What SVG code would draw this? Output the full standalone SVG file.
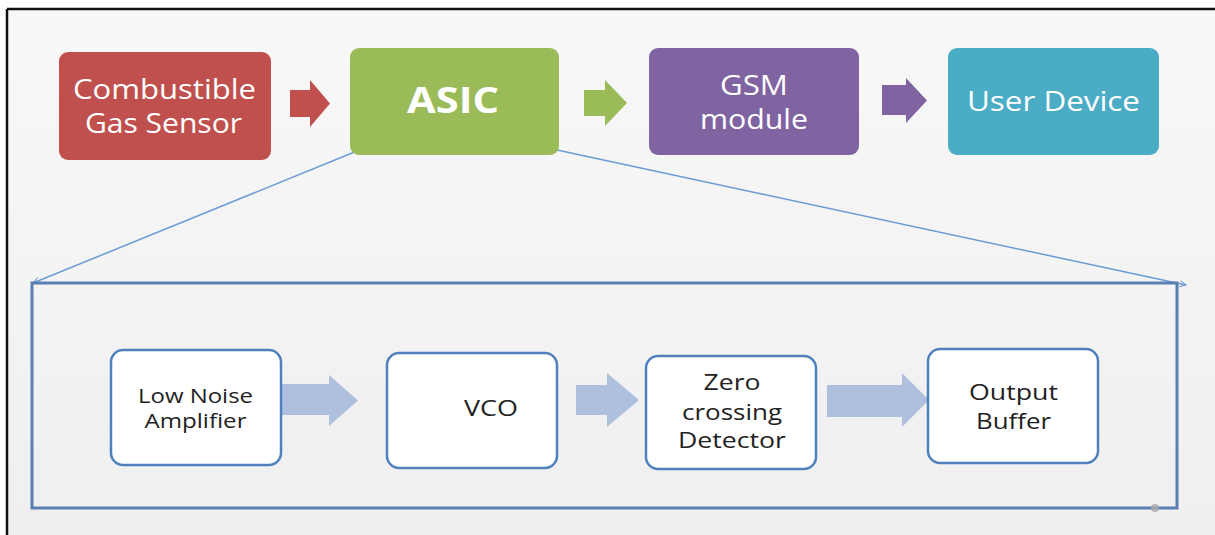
<svg xmlns="http://www.w3.org/2000/svg" width="1215" height="535" viewBox="0 0 1215 535">
<defs>
<linearGradient id="bg" x1="0" y1="0" x2="0" y2="1">
<stop offset="0" stop-color="#f8f8f8"/>
<stop offset="1" stop-color="#efefef"/>
</linearGradient>
<marker id="ah" viewBox="0 0 10 10" refX="9" refY="5" markerWidth="8" markerHeight="8" markerUnits="userSpaceOnUse" orient="auto">
<path d="M1,1 L9,5 L1,9" fill="none" stroke="#6a9bd6" stroke-width="1.2"/>
</marker>
<style>
.tt{font-family:"Open Sans","Noto Sans",sans-serif;fill:#ffffff;text-anchor:middle;font-size:27px}
.big{font-size:35px;font-weight:bold}
.in{fill:#ffffff;stroke:#4f81bd;stroke-width:2.5}
.it{font-family:"Open Sans","Noto Sans",sans-serif;fill:#222222;text-anchor:middle;font-size:20px}
.it2{font-size:22px}
.zoomline{fill:none;stroke:#6a9bd6;stroke-width:1.5}
.blk{fill:#aec0de}
</style>
</defs>
<rect x="0" y="0" width="1215" height="535" fill="#ffffff"/>
<rect x="7" y="9" width="1208" height="526" fill="url(#bg)"/>
<line x1="7" y1="9" x2="1215" y2="9" stroke="#111" stroke-width="2.5"/>
<line x1="7" y1="9" x2="7" y2="535" stroke="#111" stroke-width="2.5"/>

<g id="connectors">
<polygon fill="#c0504d" points="290,90 310,90 310,80 330,103.5 310,127 310,117 290,117"/>
<polygon fill="#9bbb59" points="584,90 605,90 605,80 627,103 605,126 605,116 584,116"/>
<polygon fill="#8064a2" points="882,85 906,85 906,78 927,100.5 906,123 906,115 882,115"/>
<line class="zoomline" x1="357" y1="151" x2="33" y2="283" marker-end="url(#ah)"/>
<line class="zoomline" x1="557" y1="150" x2="1186" y2="285" marker-end="url(#ah)"/>
<polygon class="blk" points="281,384 329,384 329,375 358,400.5 329,426 329,415 281,415"/>
<polygon class="blk" points="576,385 607,385 607,373 639,400 607,427 607,415 576,415"/>
<polygon class="blk" points="827,385 902,385 902,373 929,400 902,427 902,417 827,417"/>
</g>

<g id="sensor">
<rect x="59" y="52" width="212" height="108" rx="9" fill="#c0504d"/>
<text class="tt" x="164.5" y="99" textLength="183" lengthAdjust="spacingAndGlyphs">Combustible</text>
<text class="tt" x="163.5" y="133" textLength="157" lengthAdjust="spacingAndGlyphs">Gas Sensor</text>
</g>
<g id="asic">
<rect x="350" y="48" width="209" height="107" rx="9" fill="#9bbb59"/>
<text class="tt big" x="453" y="113" textLength="92" lengthAdjust="spacingAndGlyphs">ASIC</text>
</g>
<g id="gsm">
<rect x="649" y="48" width="210" height="107" rx="9" fill="#8064a2"/>
<text class="tt" x="754" y="95" textLength="68" lengthAdjust="spacingAndGlyphs">GSM</text>
<text class="tt" x="754" y="129" textLength="108" lengthAdjust="spacingAndGlyphs">module</text>
</g>
<g id="user">
<rect x="948" y="48" width="211" height="107" rx="9" fill="#4bacc6"/>
<text class="tt" x="1053.5" y="111" textLength="173" lengthAdjust="spacingAndGlyphs">User Device</text>
</g>

<g id="asic-detail">
<rect x="32" y="283" width="1145" height="225" fill="none" stroke="#5a7fb2" stroke-width="3"/>
</g>
<g id="lna">
<rect class="in" x="111" y="350" width="170" height="115" rx="12"/>
<text class="it" x="195.5" y="403" textLength="115" lengthAdjust="spacingAndGlyphs">Low Noise</text>
<text class="it" x="195.5" y="428" textLength="102" lengthAdjust="spacingAndGlyphs">Amplifier</text>
</g>
<g id="vco">
<rect class="in" x="387" y="353" width="170" height="115" rx="12"/>
<text class="it it2" x="491" y="416" textLength="54" lengthAdjust="spacingAndGlyphs">VCO</text>
</g>
<g id="zcd">
<rect class="in" x="646" y="356" width="170" height="113" rx="12"/>
<text class="it it2" x="732" y="390" textLength="57" lengthAdjust="spacingAndGlyphs">Zero</text>
<text class="it it2" x="732" y="420" textLength="100" lengthAdjust="spacingAndGlyphs">crossing</text>
<text class="it it2" x="732" y="448" textLength="108" lengthAdjust="spacingAndGlyphs">Detector</text>
</g>
<g id="buffer">
<rect class="in" x="928" y="349" width="170" height="114" rx="12"/>
<text class="it it2" x="1013.5" y="400" textLength="89" lengthAdjust="spacingAndGlyphs">Output</text>
<text class="it it2" x="1013.5" y="429" textLength="75" lengthAdjust="spacingAndGlyphs">Buffer</text>
</g>
<circle cx="1155" cy="508" r="4" fill="#aaaaaa" opacity="0.8"/>
</svg>
